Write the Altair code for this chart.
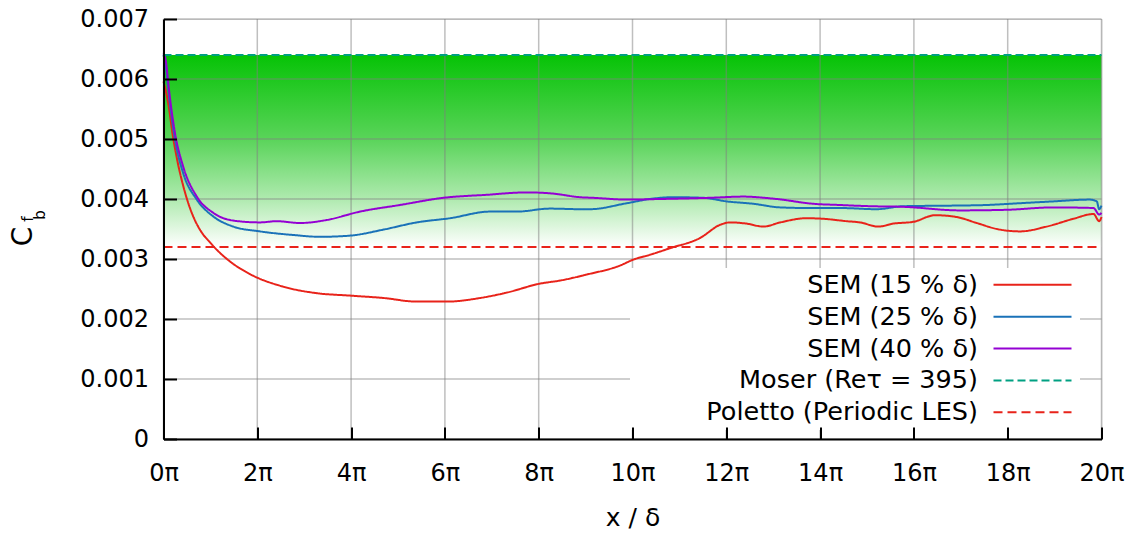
import altair as alt
import pandas as pd

# ---------------- data ----------------
series_names = ["SEM (15 % δ)", "SEM (25 % δ)", "SEM (40 % δ)",
                "Moser (Reτ = 395)", "Poletto (Periodic LES)"]
series_colors = ["#e8231a", "#1a72b8", "#9400d3", "#00a082", "#e8231a"]
series_dashes = [[1, 0], [1, 0], [1, 0], [8, 4], [9, 5]]

# x in units of pi (x/delta = u * pi)
x_sem15 = [0.0, 0.1, 0.2, 0.3, 0.4, 0.5, 0.65, 0.8, 1.0, 1.08, 1.4, 1.84, 2.55, 3.27,
           3.98, 4.69, 5.4, 6.04, 6.75, 7.32, 8.03, 8.45, 9.02, 9.73, 10.02, 10.37,
           10.8, 11.44, 11.87, 12.08, 12.43, 12.79, 13.15, 13.71, 14.07, 14.57,
           14.85, 15.24, 15.56, 15.99, 16.45, 16.91, 17.34, 17.77, 18.26, 18.83,
           19.4, 19.83, 19.95, 20.0]
cf_sem15 = [0.00596, 0.0056, 0.00505, 0.00462, 0.00428, 0.004, 0.00368, 0.00346,
            0.00327, 0.0032, 0.00297, 0.00275, 0.00254, 0.00243, 0.00239, 0.00235,
            0.00229, 0.00229, 0.00235, 0.00244, 0.00259, 0.00264, 0.00274, 0.00289,
            0.00299, 0.00307, 0.00318, 0.00335, 0.00357, 0.00361, 0.00359, 0.00354,
            0.00361, 0.00368, 0.00367, 0.00363, 0.00361, 0.00354, 0.00359, 0.00362,
            0.00373, 0.0037, 0.0036, 0.0035, 0.00346, 0.00354, 0.00367, 0.00375,
            0.00363, 0.0037]

x_sem25 = [0.0, 0.05, 0.12, 0.245, 0.42, 0.71, 1.06, 1.49, 2.06, 2.77, 3.34, 3.98,
           4.69, 5.4, 6.11, 6.96, 7.53, 8.24, 8.88, 9.09, 9.88, 10.37, 10.87, 11.51,
           12.01, 12.58, 13.15, 13.71, 14.42, 15.21, 15.77, 16.84, 17.55, 18.26,
           18.97, 19.75, 19.9, 19.95, 20.0]
cf_sem25 = [0.0064, 0.0062, 0.0057, 0.00499, 0.00443, 0.00399, 0.00371, 0.00354,
            0.00346, 0.0034, 0.00337, 0.00339, 0.00349, 0.00361, 0.00368, 0.00379,
            0.00379, 0.00384, 0.00383, 0.00383, 0.00393, 0.004, 0.00403, 0.00402,
            0.00396, 0.00392, 0.00386, 0.00385, 0.00385, 0.00383, 0.00388, 0.00389,
            0.0039, 0.00393, 0.00396, 0.00399, 0.00396, 0.00383, 0.00389]

x_sem40 = [0.0, 0.05, 0.12, 0.245, 0.42, 0.71, 1.06, 1.49, 2.06, 2.41, 2.91, 3.48,
           4.19, 5.04, 5.97, 6.89, 7.74, 8.31, 8.88, 9.16, 9.88, 10.59, 11.65, 12.36,
           13.07, 13.86, 14.42, 15.06, 15.77, 16.98, 17.98, 18.97, 19.83, 19.95, 20.0]
cf_sem40 = [0.00643, 0.0063, 0.0058, 0.0051, 0.00454, 0.00404, 0.00377, 0.00364,
            0.00361, 0.00363, 0.0036, 0.00365, 0.00379, 0.0039, 0.00402, 0.00407,
            0.00411, 0.00409, 0.00403, 0.00402, 0.00399, 0.004, 0.00402, 0.00404,
            0.004, 0.00392, 0.0039, 0.00388, 0.00387, 0.00381, 0.00382, 0.00386,
            0.00385, 0.00374, 0.00377]

moser_cf = 0.0064
poletto_cf = 0.0032
x_range = [0, 20]
y_range = [0, 0.007]

x_ticks = [0, 2, 4, 6, 8, 10, 12, 14, 16, 18, 20]
y_ticks = [0, 0.001, 0.002, 0.003, 0.004, 0.005, 0.006, 0.007]

# ---------------- tables ----------------
rows = []
for name, xs_, ys_ in zip(series_names[:3], [x_sem15, x_sem25, x_sem40],
                          [cf_sem15, cf_sem25, cf_sem40]):
    rows += [{"series": name, "x": a, "cf": b} for a, b in zip(xs_, ys_)]
for name, val in [(series_names[3], moser_cf), (series_names[4], poletto_cf)]:
    rows += [{"series": name, "x": x_range[0], "cf": val},
             {"series": name, "x": x_range[1], "cf": val}]
lines_df = pd.DataFrame(rows)

band_df = pd.DataFrame({"x": [x_range[0]], "x1": [x_range[1]],
                        "cf": [moser_cf], "bot": [poletto_cf]})
vgrid_df = pd.DataFrame({"x": x_ticks, "cf": [y_range[0]] * len(x_ticks),
                         "hi": [y_range[1]] * len(x_ticks)})
hgrid_df = pd.DataFrame({"cf": y_ticks, "x": [x_range[0]] * len(y_ticks),
                         "x1": [x_range[1]] * len(y_ticks)})

FONT = "DejaVu Sans"
xs = alt.Scale(domain=x_range, nice=False, zero=False)
ys = alt.Scale(domain=y_range, nice=False, zero=False)

x_axis = alt.Axis(values=x_ticks, labelExpr="datum.value + 'π'", grid=False,
                  domainColor="black", domainWidth=2, tickColor="black", tickWidth=2,
                  tickSize=alt.ExprRef(expr="-12"), labelPadding=34, labelFlush=False,
                  labelFontSize=24, labelFont=FONT, labelColor="black",
                  title="x / δ", titleFont=FONT, titleFontSize=25,
                  titleFontWeight="normal", titleColor="black", titlePadding=20,
                  zindex=2)
y_axis = alt.Axis(values=y_ticks,
                  labelExpr="datum.value == 0 ? '0' : format(datum.value, '.3f')",
                  grid=False, domainColor="black", domainWidth=2, tickColor="black",
                  tickWidth=2, tickSize=alt.ExprRef(expr="-13"), labelPadding=28,
                  labelFlush=False,
                  labelFontSize=24, labelFont=FONT, labelColor="black",
                  title="C", titleFont=FONT, titleFontSize=28, titleFontWeight="normal",
                  titleColor="black", titleAngle=270, titleX=-131.8, titleY=217,
                  titleAlign="center", titleBaseline="alphabetic", zindex=2)

X = alt.X("x:Q", scale=xs, axis=x_axis)
Y = alt.Y("cf:Q", scale=ys, axis=y_axis)

gradient = alt.LinearGradient(
    gradient="linear", x1=0, x2=0, y1=0, y2=1,
    stops=[alt.GradientStop(color="#06c306", offset=0),
           alt.GradientStop(color="#5ad45a", offset=0.44),
           alt.GradientStop(color="#afeaaf", offset=0.75),
           alt.GradientStop(color="#ffffff", offset=1)])

band = alt.Chart(band_df).mark_rect(color=gradient).encode(
    x=X, x2="x1:Q", y=Y, y2="bot:Q")

vgrid = alt.Chart(vgrid_df).mark_rule(color="#808080", opacity=0.5, strokeWidth=1.5).encode(
    x=X, y=Y, y2="hi:Q")
hgrid = alt.Chart(hgrid_df).mark_rule(color="#808080", opacity=0.5, strokeWidth=1.5).encode(
    y=Y, x=X, x2="x1:Q")

# legend: long horizontal line symbols on the right, right-aligned labels on the left
legend = alt.Legend(
    title=None, orient="none", legendX=466.5, legendY=249, fillColor="white",
    padding=4, symbolType="M-6,0H6", symbolSize=169, symbolStrokeWidth=2,
    rowPadding=4.9, symbolOffset=385.75,
    labelOffset=alt.ExprRef(expr="-67.25"),
    labelAlign="right", labelFont=FONT, labelFontSize=25.5, labelColor="black",
    labelLimit=500, zindex=1)

lines = alt.Chart(lines_df).mark_line(strokeWidth=2, interpolate="monotone").encode(
    x=X, y=Y,
    color=alt.Color("series:N", scale=alt.Scale(domain=series_names, range=series_colors),
                    legend=legend),
    strokeDash=alt.StrokeDash("series:N",
                              scale=alt.Scale(domain=series_names, range=series_dashes),
                              legend=legend),
    order=alt.Order("x:Q"),
)

sub_f = alt.Chart(pd.DataFrame({"t": ["f"]})).mark_text(
    angle=270, font=FONT, fontSize=15.5, align="center", baseline="alphabetic",
    color="black").encode(text="t:N", x=alt.value(-130.2), y=alt.value(200))
sub_b = alt.Chart(pd.DataFrame({"t": ["b"]})).mark_text(
    angle=270, font=FONT, fontSize=15, align="center", baseline="alphabetic",
    color="black").encode(text="t:N", x=alt.value(-118.5), y=alt.value(196))

chart = alt.layer(band, vgrid, hgrid, lines, sub_f, sub_b).properties(
    width=938, height=420,
    autosize=alt.AutoSizeParams(type="none"),
    padding={"left": 155.5, "top": 11, "right": 28, "bottom": 92},
).configure_view(strokeWidth=0).configure(font=FONT)

chart.save("out.html", embed_options={"renderer": "svg", "actions": False})
